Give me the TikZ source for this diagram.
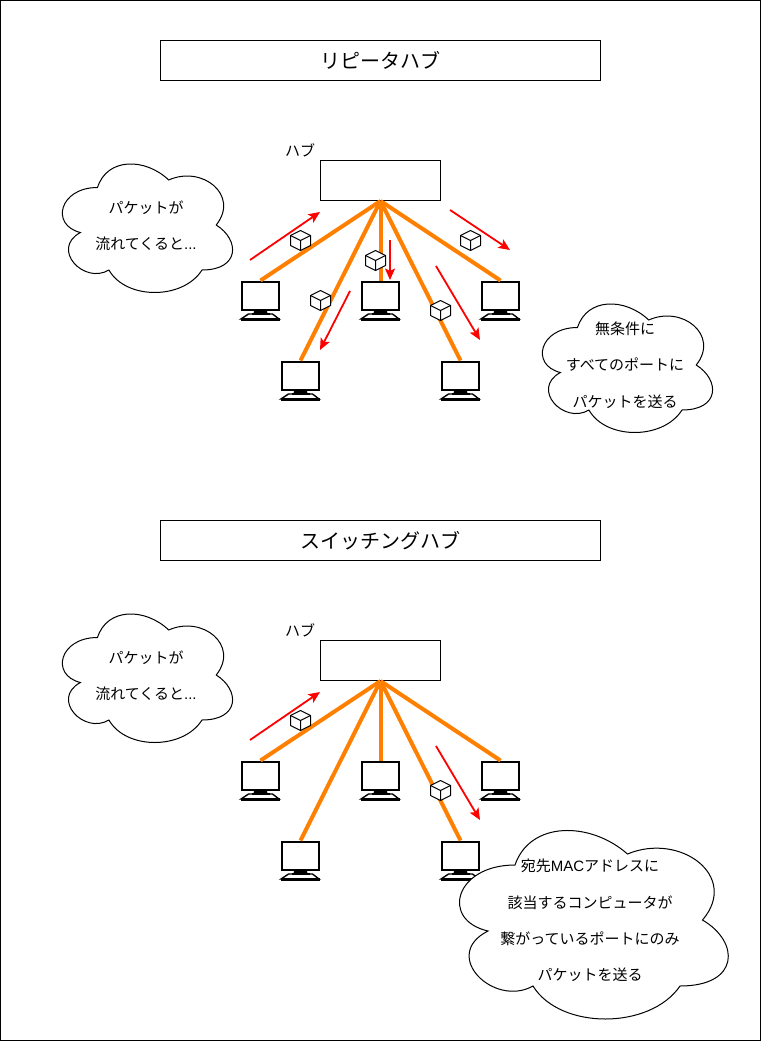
\documentclass[tikz,border=0pt]{standalone}
\usepackage{fontspec}
\setmainfont{Noto Sans CJK JP}
\newfontfamily\latinfont{Liberation Sans}
\usetikzlibrary{arrows.meta}
\definecolor{linkorange}{HTML}{FF8000}
\tikzset{
  frame/.style={draw=black,line width=1pt,fill=white,minimum width=#1,minimum height=40pt,inner sep=0pt},
  titlebox/.style={frame=440pt,font=\fontsize{20}{24}\selectfont},
  hubbox/.style={frame=120pt},
  pcbox/.style={minimum width=40pt,minimum height=40pt,inner sep=0pt,outer sep=0pt},
  link/.style={draw=linkorange,line width=4pt},
  flow/.style={draw=red,line width=1.8pt,-{Stealth[length=11.5pt,width=10pt,inset=2.5pt]}},
  label/.style={font=\fontsize{15}{18}\selectfont,inner sep=0pt},
  cloudtext/.style={align=center,inner sep=0pt,font=\fontsize{15}{36.3}\selectfont},
  cloudline/.style={draw=black,line width=1pt,fill=white},
}
\newcommand{\pcicon}[2]{%
  \node[pcbox] (#1) at (#2) {};
  \begin{scope}[shift={(#1.north west)}]
    \fill[black] (14,28) -- (26,28) -- (27,33) -- (13,33) -- cycle;
    \draw[black,line width=2pt,fill=white] (1.5,1.2) rectangle (38.5,29);
    \draw[black,line width=1.4pt,fill=white] (8,33.5) -- (32,33.5) -- (38.5,38.5) -- (0.5,38.5) -- cycle;
    \fill[black] (0.3,37.6) rectangle (39.7,40);
    \fill[black] (11,32) rectangle (29,34.5);
  \end{scope}%
}
\newcommand{\cube}[2]{%
  \begin{scope}[shift={(#1,#2)}]
    \draw[black,line width=1pt,fill=white,line join=round]
      (0,-10) -- (10,-5) -- (10,5) -- (0,10) -- (-10,5) -- (-10,-5) -- cycle;
    \draw[black,line width=1pt,line join=round] (-10,-5) -- (0,0) -- (10,-5) (0,0) -- (0,10);
  \end{scope}%
}
\newcommand{\cloud}[4]{%
  \begin{scope}[shift={(#1,#2)},x=#3pt,y=-#4pt]
    \draw[cloudline]
      (0.25,0.25) .. controls (0.05,0.25) and (0,0.5) .. (0.16,0.55)
      .. controls (0,0.66) and (0.18,0.9) .. (0.31,0.8)
      .. controls (0.4,1) and (0.7,1) .. (0.8,0.8)
      .. controls (1,0.8) and (1,0.6) .. (0.875,0.5)
      .. controls (1,0.3) and (0.8,0.1) .. (0.625,0.2)
      .. controls (0.5,0.05) and (0.3,0.05) .. (0.25,0.25) -- cycle;
  \end{scope}%
}
\begin{document}
\begin{tikzpicture}[x=1pt,y=-1pt]
\useasboundingbox (0,0) rectangle (761,1041);
\draw[black,line width=1pt,fill=white] (0.5,0.5) rectangle (760.5,1040.5);

% ---------- repeater hub
\node[titlebox] (t1) at (380.5,60.5) {\raisebox{1pt}{リピータハブ\kern1pt}};
\node[hubbox] (h1) at (380.5,180.5) {};
\node[label] (hl1) at (300,150) {ハブ};
\pcicon{a1}{260.5,300.5}
\pcicon{a2}{380.5,300.5}
\pcicon{a3}{500.5,300.5}
\pcicon{a4}{300.5,380.5}
\pcicon{a5}{460.5,380.5}
\foreach \p in {a1,a2,a3,a4,a5} \draw[link] (h1.south) -- (\p.north);
\cube{300.5}{240.5}
\cube{375.5}{260.5}
\cube{320.5}{300.5}
\cube{440.5}{310.5}
\cube{470.5}{240.5}
\coordinate (f1s) at (250,260); \coordinate (f1e) at (320,212);
\coordinate (f2s) at (390,240); \coordinate (f2e) at (390,280);
\coordinate (f3s) at (350,291); \coordinate (f3e) at (320,350);
\coordinate (f4s) at (436,266); \coordinate (f4e) at (480,340);
\coordinate (f5s) at (450,210); \coordinate (f5e) at (510,250);
\foreach \f in {1,...,5} \draw[flow] (f\f s) -- (f\f e);
\cloud{50}{150}{190}{150}
\node[cloudtext] (c1) at (146,226) {パケットが\\流れてくると{\latinfont ...}};
\cloud{530}{290}{190}{150}
\node[cloudtext] (c2) at (625,365) {無条件に\\すべてのポートに\\パケットを送る};

% ---------- switching hub
\node[titlebox] (t2) at (380.5,540.5) {\raisebox{1pt}{スイッチングハブ}};
\node[hubbox] (h2) at (380.5,660.5) {};
\node[label] (hl2) at (300,630) {ハブ};
\pcicon{b1}{260.5,780.5}
\pcicon{b2}{380.5,780.5}
\pcicon{b3}{500.5,780.5}
\pcicon{b4}{300.5,860.5}
\pcicon{b5}{460.5,860.5}
\foreach \p in {b1,b2,b3,b4,b5} \draw[link] (h2.south) -- (\p.north);
\cube{300.5}{720.5}
\cube{440.5}{790.5}
\coordinate (g1s) at (250,740); \coordinate (g1e) at (320,692);
\coordinate (g2s) at (436,746); \coordinate (g2e) at (480,820);
\foreach \f in {1,2} \draw[flow] (g\f s) -- (g\f e);
\cloud{50}{600}{190}{150}
\node[cloudtext] (c3) at (146,676) {パケットが\\流れてくると{\latinfont ...}};
\cloud{440}{810}{300}{220}
\node[cloudtext] (c4) at (590,920.5) {宛先{\latinfont MAC}アドレスに\\該当するコンピュータが\\繋がっているポートにのみ\\パケットを送る};
\end{tikzpicture}
\end{document}
